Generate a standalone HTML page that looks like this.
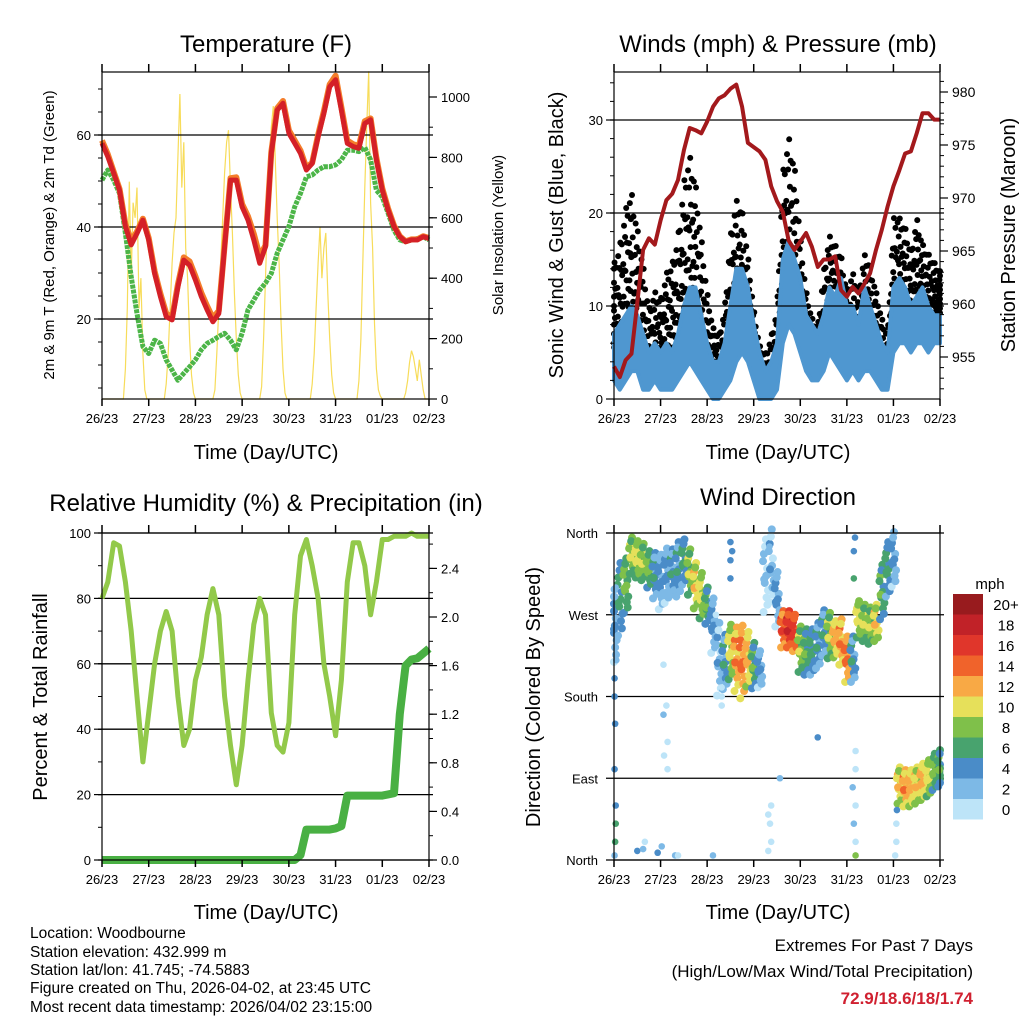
<!DOCTYPE html>
<html><head><meta charset="utf-8"><style>
html,body{margin:0;padding:0;background:#fff;}
svg text{font-family:"Liberation Sans",sans-serif;fill:#000;}
</style></head><body>
<svg id="fig" xmlns="http://www.w3.org/2000/svg" width="1024" height="1024" viewBox="0 0 1024 1024">
<rect x="0" y="0" width="1024" height="1024" fill="#fff"/>
<g id="p1"></g>
<g id="p2"></g>
<g id="p3"></g>
<g id="p4"></g>
<text x="266" y="52" font-size="24" text-anchor="middle">Temperature (F)</text>
<text x="778" y="52" font-size="24" text-anchor="middle">Winds (mph) &amp; Pressure (mb)</text>
<text x="266" y="511" font-size="24" text-anchor="middle">Relative Humidity (%) &amp; Precipitation (in)</text>
<text x="778" y="505" font-size="24" text-anchor="middle">Wind Direction</text>
<text x="266" y="459" font-size="20" text-anchor="middle">Time (Day/UTC)</text>
<text x="778" y="459" font-size="20" text-anchor="middle">Time (Day/UTC)</text>
<text x="266" y="919" font-size="20" text-anchor="middle">Time (Day/UTC)</text>
<text x="778" y="919" font-size="20" text-anchor="middle">Time (Day/UTC)</text>
<text transform="translate(54,235) rotate(-90)" font-size="15" text-anchor="middle">2m &amp; 9m T (Red, Orange) &amp; 2m Td (Green)</text>
<text transform="translate(503,235) rotate(-90)" font-size="15" text-anchor="middle">Solar Insolation (Yellow)</text>
<text transform="translate(563,235) rotate(-90)" font-size="20" text-anchor="middle">Sonic Wind &amp; Gust (Blue, Black)</text>
<text transform="translate(1015,235) rotate(-90)" font-size="20" text-anchor="middle">Station Pressure (Maroon)</text>
<text transform="translate(47,697) rotate(-90)" font-size="20" text-anchor="middle">Percent &amp; Total Rainfall</text>
<text transform="translate(540,697) rotate(-90)" font-size="20" text-anchor="middle">Direction (Colored By Speed)</text>
<g font-size="15.5">
<text x="30" y="938">Location: Woodbourne</text>
<text x="30" y="957">Station elevation: 432.999 m</text>
<text x="30" y="975">Station lat/lon: 41.745; -74.5883</text>
<text x="30" y="993">Figure created on Thu, 2026-04-02, at 23:45 UTC</text>
<text x="30" y="1012">Most recent data timestamp: 2026/04/02 23:15:00</text>
</g>
<text x="973" y="951" font-size="17" text-anchor="end">Extremes For Past 7 Days</text>
<text x="973" y="977" font-size="17" text-anchor="end">(High/Low/Max Wind/Total Precipitation)</text>
<text x="973" y="1004" font-size="17" font-weight="bold" text-anchor="end" style="fill:#d02030">72.9/18.6/18/1.74</text>
</svg>
<script>
// ---------- data (3-hour steps over 7 days, 57 points) ----------
const dayLabels = ["26/23","27/23","28/23","29/23","30/23","31/23","01/23","02/23"];
const temp2m = [58.2,55.3,51.7,48.0,40.1,36.1,38.6,41.5,37.2,29.9,24.9,20.5,19.8,27.0,32.8,31.7,28.5,24.9,22.0,19.4,21.2,35.7,50.2,50.2,44.4,41.5,37.2,32.1,35.7,56.0,65.4,66.9,60.4,58.2,56.0,52.4,53.8,59.6,64.7,70.5,72.0,65.4,58.2,57.5,57.1,62.5,63.3,54.6,48.0,43.7,40.1,37.9,36.8,37.2,37.2,37.9,37.5];
const temp9m = [58.8,55.8,52.0,48.3,40.6,37.0,39.0,41.8,37.6,30.4,25.5,21.2,20.3,27.5,33.4,32.5,29.3,25.7,22.8,20.2,21.8,36.0,50.6,50.8,45.0,42.3,38.5,33.6,36.0,56.3,65.8,67.4,61.0,58.8,56.6,52.8,54.0,60.0,65.2,71.0,72.9,66.0,58.8,58.0,57.6,63.0,63.6,55.0,48.4,44.0,40.3,38.0,36.9,37.3,37.3,38.0,37.6];
const dewpoint = [50.2,52.4,50.2,47.3,38.6,29.2,21.2,14.0,12.5,15.4,14.7,11.1,8.9,6.7,8.2,9.6,11.1,13.3,14.7,15.4,16.2,16.9,15.4,13.3,16.9,22.0,24.1,26.3,27.8,29.9,34.3,37.2,40.1,44.4,47.3,50.9,51.3,52.4,53.1,53.1,53.5,54.6,56.7,56.7,56.4,57.3,54.6,48.0,46.5,43.0,39.3,37.2,36.8,37.2,37.5,37.9,37.2];
// hourly solar insolation (169 points)
const solar = [
0,0,0,0,0,0,0,0,0,0,0,0,100,300,720,400,650,600,700,300,400,150,30,0,
0,0,0,0,0,0,0,0,0,50,150,300,450,550,600,800,1010,700,850,500,400,200,80,20,
0,0,0,0,0,0,0,0,0,0,30,150,300,450,600,750,850,890,700,550,350,200,80,20,
0,0,0,0,0,0,0,0,0,0,40,200,400,600,750,900,970,800,600,450,250,100,20,0,
0,0,0,0,0,0,0,0,0,0,0,0,50,150,300,450,570,400,500,550,350,200,80,20,
0,0,0,0,0,0,0,0,0,0,0,0,60,200,450,700,900,1085,650,500,250,100,30,10,
0,0,0,0,0,0,0,0,0,0,0,0,20,60,120,160,140,100,60,130,80,30,0,0,0];
const pressure = [954.1,953.1,954.7,955.3,960.1,965.1,966.2,965.6,967.9,969.8,970.4,971.7,974.5,976.6,976.4,976.1,977.2,978.6,979.4,979.7,980.3,980.7,978.6,975.2,974.8,974.4,973.6,971.1,969.7,968.7,966.0,965.1,965.9,966.7,965.4,963.5,964.2,964.2,964.5,961.3,960.7,961.6,961.0,961.9,962.9,965.1,967.0,969.2,971.1,972.6,974.2,974.4,976.1,978.0,978.0,977.4,977.4];
const windLow = [2,1,2,3,3,1,1,2,1,1,1,2,3,4,3,2,1,0,0,1,2,4,5,4,2,0,0,0,1,6,8,7,5,3,2,2,3,5,4,3,2,3,2,3,3,2,1,1,5,6,6,5,6,6,5,6,6];
const windHigh = [7,8,9,10,9,7,5,6,5,6,5,7,10,12,12,9,6,4,4,6,10,14,14,12,8,5,3,4,6,15,17,15,13,9,8,7,9,12,11,13,10,10,8,12,10,8,6,5,12,13,12,10,11,12,10,9,9];
const gustLow = [5,6,8,9,7,4,2,3,3,4,5,6,9,11,10,6,3,2,2,3,7,10,9,7,4,1,0,1,3,11,13,11,8,5,3,3,6,9,8,6,5,6,5,7,6,5,3,2,9,10,10,9,10,10,8,9,9];
const gustHigh = [15,17,21,23,19,15,10,12,11,14,15,18,24,27,24,18,12,8,7,10,18,22,21,16,10,6,5,7,10,25,29,26,18,12,9,8,14,18,17,16,12,14,12,16,15,12,9,7,20,20,19,16,20,17,16,15,14];
const rh = [80,85,97,96,85,70,50,30,45,60,70,76,70,50,35,40,55,62,75,83,75,50,35,23,35,55,72,80,75,45,35,33,42,75,93,98,90,80,60,50,38,55,85,97,97,90,75,85,98,98,99,99,99,100,99,99,99];
const precip = [0,0,0,0,0,0,0,0,0,0,0,0,0,0,0,0,0,0,0,0,0,0,0,0,0,0,0,0,0,0,0,0,0,0,0.04,0.25,0.25,0.25,0.25,0.25,0.26,0.28,0.53,0.53,0.53,0.53,0.53,0.53,0.53,0.54,0.55,1.2,1.6,1.65,1.66,1.7,1.74];
const dirCenter = [258,287,302,335,331,328,320,313,306,313,317,320,328,317,302,291,280,258,221,218,229,221,218,221,214,210,313,324,287,254,254,250,232,229,229,236,250,247,243,240,221,221,265,261,258,261,295,320,331,82,79,79,82,86,90,97,101];
const dirSpread = [80,80,60,40,40,40,40,50,60,60,50,60,50,50,50,50,40,60,80,60,60,70,80,60,50,40,80,80,60,40,40,40,50,50,50,50,50,50,40,50,50,50,40,40,40,40,60,60,60,40,40,40,40,40,40,40,40];
const dirSpeed = [3,5,7,8,9,8,7,4,3,3,4,4,5,8,10,9,6,3,2,4,9,12,13,11,6,3,1,2,3,14,16,15,8,6,5,4,4,8,11,12,13,4,9,8,8,10,6,5,3,10,12,11,10,11,9,7,6];
const outT = [0.3,0.3,0.2,0.1,0.2,0.1,0.1,0.1,4,5,5.3,7.5,8.2,10.5,8.5,9,8.6,9.2,9.2,8.5,18.5,18.5,18.5,17.5,20,20,20,26.5,27,26.8,27,26.5,28.5,35,41.5,41.5,41,41.5,41.2,41.5,41.5,41.2,41.4,41.2,48.5,48.5,48.3,48.6,11,17,0.2,0.3,0.4,20.3,26.7];
const outD = [60,40,20,100,150,180,200,5,10,12,20,8,15,5,160,170,115,130,100,215,190,180,170,270,330,310,350,50,60,40,20,10,90,135,120,100,80,60,40,20,5,340,355,310,40,20,5,55,5,5,290,300,220,340,345];
const outS = [5,6,6,4,4,4,4,2,4,3,1,4,3,2,2,1,1,1,1,1,1,1,1,1,4,4,4,1,1,1,1,1,2,4,1,1,2,1,2,1,8,4,4,7,1,1,1,4,0,3,2,2,2,4,2];
const speedTicks = ["0","2","4","6","8","10","12","14","16","18","20+"];
const speedColors = ["#bde4f8","#7db9e6","#4a8cc8","#48a36e","#7fc04a","#e6e05a","#f8a945","#f0632b","#e0362b","#c12228","#981b1e"];

// ---------- helpers ----------
const NS="http://www.w3.org/2000/svg";
function mk(parent, tag, attrs, name, inter){
  const el=document.createElementNS(NS,tag);
  for(const k in attrs) el.setAttribute(k,attrs[k]);
  
  
  parent.appendChild(el);
  return el;
}
function txt(parent,x,y,s,size,anchor,name){
  const t=mk(parent,'text',{x:x,y:y,'font-size':size,'text-anchor':anchor},name,false);
  t.textContent=s; return t;
}
function lin(v,d0,d1,r0,r1){return r0+(v-d0)*(r1-r0)/(d1-d0);}
function interp(arr,t){const i=Math.max(0,Math.min(arr.length-1,Math.floor(t)));const j=Math.min(arr.length-1,i+1);const f=t-i;return arr[i]*(1-f)+arr[j]*f;}

function frame(g,X0,X1,Y0,Y1,name){
  mk(g,'rect',{x:X0,y:Y0,width:X1-X0,height:Y1-Y0,fill:'none',stroke:'#000','stroke-width':1.2},name,false);
  for(let d=0;d<=7;d++){
    const x=lin(d,0,7,X0,X1);
    mk(g,'line',{x1:x,x2:x,y1:Y1,y2:Y1+7,stroke:'#000','stroke-width':1.5},'x-tick',false);
    mk(g,'line',{x1:x,x2:x,y1:Y0,y2:Y0-8,stroke:'#000','stroke-width':1.5},'x-tick-top',false);
    txt(g,x,Y1+24,dayLabels[d],13,'middle','x-tick-label');
  }
}
function leftAxis(g,X0,X1,vals,labels,yf,minor,grid){
  minor.forEach(v=>{const y=yf(v);mk(g,'line',{x1:X0-4,x2:X0,y1:y,y2:y,stroke:'#000','stroke-width':1},'y-minor-tick',false);});
  vals.forEach((v,i)=>{const y=yf(v);
    mk(g,'line',{x1:X0-8,x2:X0,y1:y,y2:y,stroke:'#000','stroke-width':1.2},'y-tick',false);
    if(grid) mk(g,'line',{x1:X0-4,x2:X1+4,y1:y,y2:y,stroke:'#000','stroke-width':1.3},'gridline',false);
    txt(g,X0-11,y+5,labels[i],13,'end','y-tick-label');});
}
function rightAxis(g,X1,vals,labels,yf,minor,size){
  minor.forEach(v=>{const y=yf(v);mk(g,'line',{x1:X1,x2:X1+4,y1:y,y2:y,stroke:'#000','stroke-width':1},'y2-minor-tick',false);});
  vals.forEach((v,i)=>{const y=yf(v);
    mk(g,'line',{x1:X1,x2:X1+8,y1:y,y2:y,stroke:'#000','stroke-width':1.2},'y2-tick',false);
    txt(g,X1+12,y+5,labels[i],size||13,'start','y2-tick-label');});
}
function path(pts){return pts.map((p,i)=>(i?'L':'M')+p[0].toFixed(1)+','+p[1].toFixed(1)).join('');}
function range(a,b,s){const r=[];for(let v=a;v<=b+1e-9;v+=s)r.push(+v.toFixed(3));return r;}

// ---------- panel 1: temperature ----------
(function(){
  const g=document.getElementById('p1');
  const X0=102,X1=429,Y0=72,Y1=399;
  const xT=i=>lin(i,0,56,X0,X1), xH=i=>lin(i,0,168,X0,X1);
  const yT=v=>lin(v,20,60,319,135), yS=v=>lin(v,0,1000,399,97);
  mk(g,'path',{d:path(solar.map((v,i)=>[xH(i),yS(v)])),fill:'none',stroke:'#f7dc5a','stroke-width':1.2},'solar-line',false);
  leftAxis(g,X0,X1,[20,40,60],["20","40","60"],yT,range(5,70,5),true);
  rightAxis(g,X1,[0,200,400,600,800,1000],["0","200","400","600","800","1000"],yS,range(100,1000,100));
  mk(g,'path',{d:path(dewpoint.map((v,i)=>[xT(i),yT(v)])),fill:'none',stroke:'#4cb548','stroke-width':5,'stroke-dasharray':'4 1','stroke-linejoin':'round'},'dewpoint-line',false);
  mk(g,'path',{d:path(temp9m.map((v,i)=>[xT(i),yT(v)])),fill:'none',stroke:'#f47d2a','stroke-width':6,'stroke-linejoin':'round'},'temp-9m-line',false);
  mk(g,'path',{d:path(temp2m.map((v,i)=>[xT(i),yT(v)])),fill:'none',stroke:'#d42027','stroke-width':5,'stroke-linejoin':'round'},'temp-2m-line',false);
  frame(g,X0,X1,Y0,Y1,'temperature-plot-frame');
})();

// ---------- panel 2: winds & pressure ----------
(function(){
  const g=document.getElementById('p2');
  const X0=614,X1=940,Y0=72,Y1=399;
  const xT=i=>lin(i,0,56,X0,X1);
  const yW=v=>lin(v,0,10,399,306), yP=v=>lin(v,960,970,304,198);
  const fr=[0.1,0.6,0.3,0.9,0.5,0.2,0.75,0.45,0.05,0.95,0.35,0.65,0.15,0.85,0.55,0.25];
  gustLow.forEach((lo,i)=>{
    fr.forEach((f,j)=>{
      const t=Math.max(0,Math.min(56,i+(j-7.5)/16));
      const l=interp(gustLow,t), h=interp(gustHigh,t);
      mk(g,'circle',{cx:xT(t),cy:yW(l+(h-l)*f),r:3,fill:'#000'},'gust-point',false);
    });
  });
  const top=windHigh.map((v,i)=>[xT(i),yW(v)]);
  const bot=windLow.map((v,i)=>[xT(i),yW(v)]).reverse();
  mk(g,'path',{d:path(top.concat(bot))+'Z',fill:'#4f97d0',stroke:'#4f97d0','stroke-width':4,'stroke-linejoin':'round'},'wind-band',false);
  leftAxis(g,X0,X1,[0,10,20,30],["0","10","20","30"],yW,range(2,34,2),false);
  [10,20,30].forEach(v=>mk(g,'line',{x1:X0-4,x2:X1+4,y1:yW(v),y2:yW(v),stroke:'#000','stroke-width':1.2},'gridline',false));
  rightAxis(g,X1,[955,960,965,970,975,980],["955","960","965","970","975","980"],yP,range(952,981,1),14);
  mk(g,'path',{d:path(pressure.map((v,i)=>[xT(i),yP(v)])),fill:'none',stroke:'#a3191c','stroke-width':4,'stroke-linejoin':'round'},'pressure-line',false);
  frame(g,X0,X1,Y0,Y1,'winds-plot-frame');
})();

// ---------- panel 3: RH & precip ----------
(function(){
  const g=document.getElementById('p3');
  const X0=102,X1=429,Y0=533,Y1=860;
  const xT=i=>lin(i,0,56,X0,X1);
  const yR=v=>lin(v,0,100,860,533), yPr=v=>lin(v,0,0.4,860,811.4);
  leftAxis(g,X0,X1,[0,20,40,60,80,100],["0","20","40","60","80","100"],yR,range(10,90,10),true);
  rightAxis(g,X1,[0,0.4,0.8,1.2,1.6,2.0,2.4],["0.0","0.4","0.8","1.2","1.6","2.0","2.4"],yPr,range(0.2,2.6,0.2));
  mk(g,'path',{d:path(rh.map((v,i)=>[xT(i),yR(v)])),fill:'none',stroke:'#92c94a','stroke-width':5,'stroke-linejoin':'round'},'humidity-line',false);
  mk(g,'path',{d:path(precip.map((v,i)=>[xT(i),yPr(v)])),fill:'none',stroke:'#49b043','stroke-width':8,'stroke-linejoin':'round'},'precip-line',false);
  frame(g,X0,X1,Y0,Y1,'humidity-plot-frame');
})();

// ---------- panel 4: wind direction ----------
(function(){
  const g=document.getElementById('p4');
  const X0=614,X1=940,Y0=533,Y1=860;
  const xT=i=>lin(i,0,56,X0,X1);
  const yD=d=>lin(d,0,360,860,533);
  const col=s=>speedColors[Math.max(0,Math.min(10,Math.floor(s/2)))];
  [360,270,180,90,0].forEach((d,i)=>{
    mk(g,'line',{x1:X0-8,x2:X1+4,y1:yD(d),y2:yD(d),stroke:'#000','stroke-width':1.3},'direction-gridline',false);
    txt(g,X0-16,yD(d)+5,["North","West","South","East","North"][i],13,'end','direction-tick-label');
  });
  const off=[-1,-0.6,-0.2,0.2,0.6,1,-0.8,0.4,-0.4,0.8,0,-0.1];
  const dx=[-0.3,0.2,-0.1,0.3,-0.25,0.1,0.35,-0.4,0.45,-0.05,0.15,-0.2];
  const ds=[-2,0,1,-1,2,0,-1,1,0,-1,1,2];
  dirCenter.forEach((c,i)=>{
    off.forEach((o,j)=>{
      const t=Math.max(0,Math.min(56,i+dx[j]));
      mk(g,'circle',{cx:xT(t),cy:yD(c+o*dirSpread[i]/2),r:4,fill:col(Math.max(0,dirSpeed[i]+ds[j]))},'direction-point',false);
    });
  });
  outT.forEach((t,i)=>{
    mk(g,'circle',{cx:xT(t),cy:yD(outD[i]),r:3.3,fill:col(outS[i])},'direction-outlier',false);
  });
  frame(g,X0,X1,Y0,Y1,'direction-plot-frame');
  txt(g,990,589,'mph',15,'middle','colorbar-title');
  for(let k=0;k<11;k++){
    const y=594+(10-k)*20.5;
    mk(g,'rect',{x:953,y:y,width:30,height:20.5,fill:speedColors[k]},'colorbar-swatch',false);
    txt(g,1006,y+16,speedTicks[k],15,'middle','colorbar-label');
  }
})();
</script>
</body></html>
